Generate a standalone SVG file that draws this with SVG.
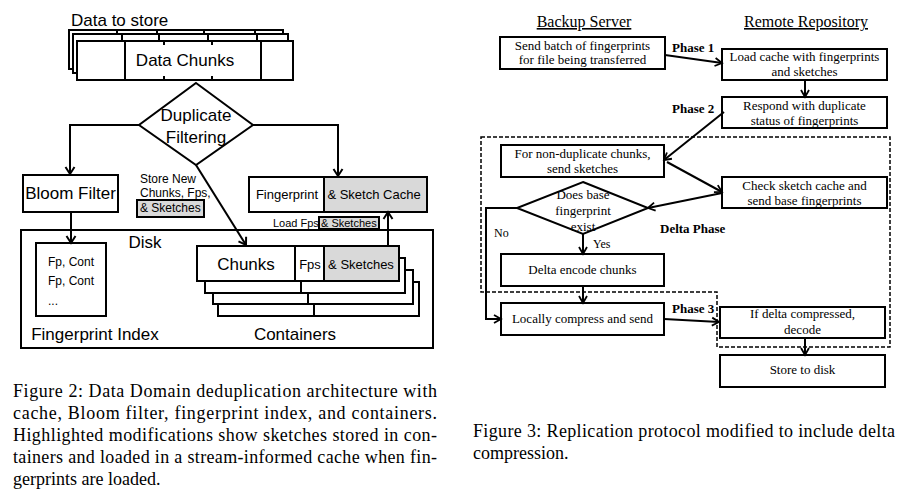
<svg xmlns="http://www.w3.org/2000/svg" width="906" height="494" viewBox="0 0 906 494">
<defs>
<style>
.b{fill:#fff;stroke:#000;stroke-width:2}
.g{fill:#d9d9d9;stroke:#000;stroke-width:2}
.ln{fill:none;stroke:#000;stroke-width:2}
.lnr{fill:none;stroke:#000;stroke-width:1.5}
.sans{font-family:"Liberation Sans",Arial,sans-serif;fill:#000}
.s17{font-size:17px}
.s13{font-size:13px}
.s12{font-size:12px}
.s11{font-size:11px}
.mid{text-anchor:middle}
.serif{font-family:"Liberation Serif","Times New Roman",serif;fill:#000}
.r13{font-size:13px}
.bold{font-weight:bold}
.cap{font-family:"Liberation Serif","Times New Roman",serif;font-size:18px;fill:#000}
.dash{fill:none;stroke:#000;stroke-width:1.5;stroke-dasharray:4,2}
</style>
<marker id="ah" markerWidth="12" markerHeight="12" refX="10" refY="6" orient="auto" markerUnits="userSpaceOnUse">
<path d="M3,1.5 L10,6 L3,10.5" fill="none" stroke="#000" stroke-width="2"/>
</marker>
<marker id="ahr" markerWidth="12" markerHeight="12" refX="10" refY="6" orient="auto" markerUnits="userSpaceOnUse">
<path d="M3,2 L10,6 L3,10" fill="none" stroke="#000" stroke-width="1.8"/>
</marker>
</defs>

<!-- ===== Figure 2 ===== -->
<text class="sans s17" x="71" y="26">Data to store</text>

<g id="data-chunks">
<rect class="b" x="69" y="30" width="214" height="39"/>
<path class="ln" d="M117,30V38M157,30V38M204,30V38M255,30V38"/>
<rect class="b" x="73" y="34" width="215" height="39"/>
<path class="ln" d="M122,34V41M159,34V41M208,34V41M257,34V41"/>
<rect class="b" x="77" y="41" width="216" height="39"/>
<path class="ln" d="M125,41V80M261,41V80M164,41V45M164,76V80M212,41V45M212,76V80"/>
<text class="sans s17 mid" x="185" y="66">Data Chunks</text>
</g>

<g id="duplicate-filtering">
<polygon class="b" points="196,83 253,125 196,165 139,125"/>
<text class="sans s17 mid" x="196" y="121">Duplicate</text>
<text class="sans s17 mid" x="196" y="143">Filtering</text>
</g>

<g id="bloom-filter">
<rect class="b" x="23" y="175" width="95" height="37"/>
<text class="sans s17 mid" x="70.5" y="199">Bloom Filter</text>
</g>

<g id="cache">
<rect class="b" x="249" y="177" width="75" height="35"/>
<rect class="g" x="324" y="177" width="103" height="35"/>
<text class="sans s13 mid" x="287" y="199">Fingerprint</text>
<text class="sans s13 mid" x="374" y="199">&amp; Sketch Cache</text>
</g>

<g id="disk">
<rect class="b" x="21" y="230" width="412" height="118"/>
<text class="sans s17 mid" x="145" y="248">Disk</text>
</g>

<g id="fingerprint-index">
<rect class="b" x="36" y="243" width="70" height="73"/>
<text class="sans s12" x="48" y="266">Fp, Cont</text>
<text class="sans s12" x="48" y="285">Fp, Cont</text>
<text class="sans s12" x="48" y="305">...</text>
<text class="sans s17 mid" x="95" y="340">Fingerprint Index</text>
</g>

<g id="containers">
<rect class="b" x="218" y="282" width="201" height="34"/>
<path class="ln" d="M314,282V316"/>
<rect class="b" x="213" y="270" width="200" height="34"/>
<path class="ln" d="M308,270V304"/>
<rect class="b" x="205" y="258" width="200" height="35"/>
<path class="ln" d="M301,258V293"/>
<rect class="b" x="197" y="246" width="98" height="35"/>
<rect class="b" x="295" y="246" width="29" height="35"/>
<rect class="g" x="324" y="246" width="75" height="35"/>
<text class="sans s17 mid" x="246" y="270">Chunks</text>
<text class="sans s13 mid" x="310" y="269">Fps</text>
<text class="sans s13 mid" x="361" y="269">&amp; Sketches</text>
<text class="sans s17 mid" x="295" y="340">Containers</text>
</g>

<g id="labels-left">
<text class="sans s12" x="140" y="183">Store New</text>
<text class="sans s12" x="140" y="197">Chunks, Fps,</text>
<rect class="g" x="137" y="200" width="67" height="17" stroke-width="1.5"/>
<text class="sans s12" x="140" y="212">&amp; Sketches</text>
<text class="sans s11" x="273" y="227">Load Fps</text>
<rect class="g" x="319" y="217" width="60" height="12" stroke-width="1.5"/>
<text class="sans s11" x="321" y="227">&amp; Sketches</text>
</g>

<g id="connectors-left">
<path class="ln" d="M139,125H70V174" marker-end="url(#ah)"/>
<path class="ln" d="M253,125H338V176" marker-end="url(#ah)"/>
<path class="ln" d="M71,212V243" marker-end="url(#ah)"/>
<path class="ln" d="M196,165L246,245" marker-end="url(#ah)"/>
<path class="ln" d="M388,246V212" marker-end="url(#ah)"/>
</g>

<!-- ===== Figure 3 ===== -->
<text class="serif mid" x="584" y="27" font-size="16" text-decoration="underline">Backup Server</text>
<text class="serif mid" x="806" y="27" font-size="16" text-decoration="underline">Remote Repository</text>

<path id="delta-phase-region" class="dash" d="M481,137H890V347H717V292H481Z"/>

<g id="send-batch">
<rect class="b" x="500" y="37" width="165" height="32"/>
<text class="serif r13 mid" x="582.5" y="50">Send batch of fingerprints</text>
<text class="serif r13 mid" x="582.5" y="64">for file being transferred</text>
</g>
<g id="load-cache">
<rect class="b" x="722" y="49" width="165" height="31"/>
<text class="serif r13 mid" x="804.5" y="61">Load cache with fingerprints</text>
<text class="serif r13 mid" x="804.5" y="76">and sketches</text>
</g>
<g id="respond">
<rect class="b" x="722" y="97" width="165" height="31"/>
<text class="serif r13 mid" x="804.5" y="110">Respond with duplicate</text>
<text class="serif r13 mid" x="804.5" y="125">status of fingerprints</text>
</g>
<g id="non-duplicate">
<rect class="b" x="501" y="145" width="163" height="32"/>
<text class="serif r13 mid" x="582.5" y="158">For non-duplicate chunks,</text>
<text class="serif r13 mid" x="582.5" y="173">send sketches</text>
</g>
<g id="check-sketch">
<rect class="b" x="722" y="177" width="165" height="31"/>
<text class="serif r13 mid" x="804.5" y="190">Check sketch cache and</text>
<text class="serif r13 mid" x="804.5" y="205">send base fingerprints</text>
</g>
<g id="base-exists">
<polygon class="b" points="583,182 648,208 583,234 517,208"/>
<text class="serif r13 mid" x="583" y="199">Does base</text>
<text class="serif r13 mid" x="583" y="215">fingerprint</text>
<text class="serif r13 mid" x="583" y="231">exist</text>
</g>
<g id="delta-encode">
<rect class="b" x="501" y="254" width="163" height="32"/>
<text class="serif r13 mid" x="582.5" y="274">Delta encode chunks</text>
</g>
<g id="locally-compress">
<rect class="b" x="501" y="303" width="163" height="32"/>
<text class="serif r13 mid" x="582.5" y="323">Locally compress and send</text>
</g>
<g id="decode">
<rect class="b" x="720" y="307" width="165" height="31"/>
<text class="serif r13 mid" x="802.5" y="318">If delta compressed,</text>
<text class="serif r13 mid" x="802.5" y="334">decode</text>
</g>
<g id="store-disk">
<rect class="b" x="720" y="355" width="165" height="32"/>
<text class="serif r13 mid" x="802.5" y="374">Store to disk</text>
</g>

<g id="labels-right">
<text class="serif r13 bold" x="672" y="52">Phase 1</text>
<text class="serif r13 bold" x="672" y="113">Phase 2</text>
<text class="serif r13 bold" x="672" y="313">Phase 3</text>
<text class="serif r13 bold" x="660" y="233">Delta Phase</text>
<text class="serif" x="494" y="237" font-size="12">No</text>
<text class="serif" x="593" y="248" font-size="12">Yes</text>
</g>

<g id="connectors-right">
<path class="ln" d="M665,55L722,63" marker-end="url(#ahr)"/>
<path class="ln" d="M805,80V97" marker-end="url(#ahr)"/>
<path class="ln" d="M724,112L664,160" marker-end="url(#ahr)"/>
<path class="ln" d="M667,162L722,192" marker-end="url(#ahr)"/>
<path class="ln" d="M722,193L648,208" marker-end="url(#ahr)"/>
<path class="ln" d="M517,208H486V319H501" marker-end="url(#ahr)"/>
<path class="ln" d="M583,234V254" marker-end="url(#ahr)"/>
<path class="ln" d="M583,286V303" marker-end="url(#ahr)"/>
<path class="ln" d="M664,319L719,322" marker-end="url(#ahr)"/>
<path class="ln" d="M805,338V355" marker-end="url(#ahr)"/>
</g>

<!-- ===== Captions ===== -->
<g id="caption-fig2">
<text class="cap" x="13" y="397" textLength="424" lengthAdjust="spacing">Figure 2: Data Domain deduplication architecture with</text>
<text class="cap" x="13" y="419" textLength="424" lengthAdjust="spacing">cache, Bloom filter, fingerprint index, and containers.</text>
<text class="cap" x="13" y="441" textLength="424" lengthAdjust="spacing">Highlighted modifications show sketches stored in con-</text>
<text class="cap" x="13" y="463" textLength="424" lengthAdjust="spacing">tainers and loaded in a stream-informed cache when fin-</text>
<text class="cap" x="13" y="485">gerprints are loaded.</text>
</g>
<g id="caption-fig3">
<text class="cap" x="473" y="437" textLength="422" lengthAdjust="spacing">Figure 3: Replication protocol modified to include delta</text>
<text class="cap" x="473" y="459">compression.</text>
</g>
</svg>
